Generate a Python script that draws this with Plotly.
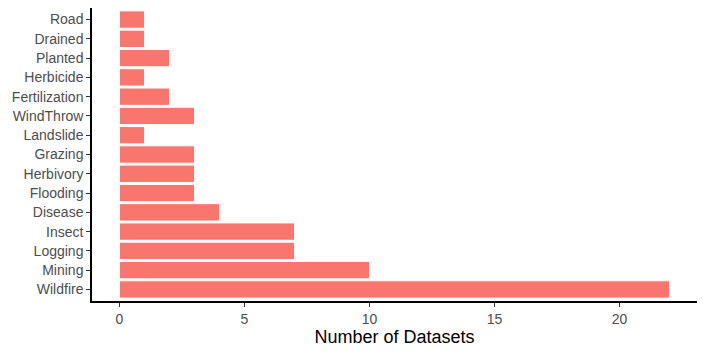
import plotly.graph_objects as go

categories = ["Wildfire", "Mining", "Logging", "Insect", "Disease", "Flooding",
              "Herbivory", "Grazing", "Landslide", "WindThrow", "Fertilization",
              "Herbicide", "Planted", "Drained", "Road"]
counts = [22, 10, 7, 7, 4, 3, 3, 3, 1, 3, 2, 1, 2, 1, 1]
x_ticks = [0, 5, 10, 15, 20]

fig = go.Figure(go.Bar(
    x=counts, y=categories, orientation="h",
    marker=dict(color="#F8766D", line=dict(color="white", width=1)),
    width=0.9,
))

fig.update_layout(
    width=707, height=353,
    margin=dict(l=92, r=10, t=8, b=52),
    plot_bgcolor="white", paper_bgcolor="white",
    font=dict(family="Liberation Sans, Arial, sans-serif"),
    showlegend=False,
    bargap=0.1,
)
fig.update_xaxes(
    range=[-1.1, 23.1], tickvals=x_ticks, showgrid=False, zeroline=False,
    showline=True, linecolor="black", linewidth=1.5,
    ticks="outside", ticklen=4, tickcolor="#333333", tickwidth=1,
    tickfont=dict(size=14, color="#4D4D4D"),
    title=dict(text="Number of Datasets", font=dict(size=18, color="black"), standoff=4),
)
fig.update_yaxes(
    categoryorder="array", categoryarray=categories,
    range=[-0.6, 14.6], showgrid=False, zeroline=False,
    showline=True, linecolor="black", linewidth=1.5,
    ticks="outside", ticklen=4, tickcolor="#333333", tickwidth=1,
    tickfont=dict(size=14, color="#4D4D4D"),
)

fig.write_html("out.html")
